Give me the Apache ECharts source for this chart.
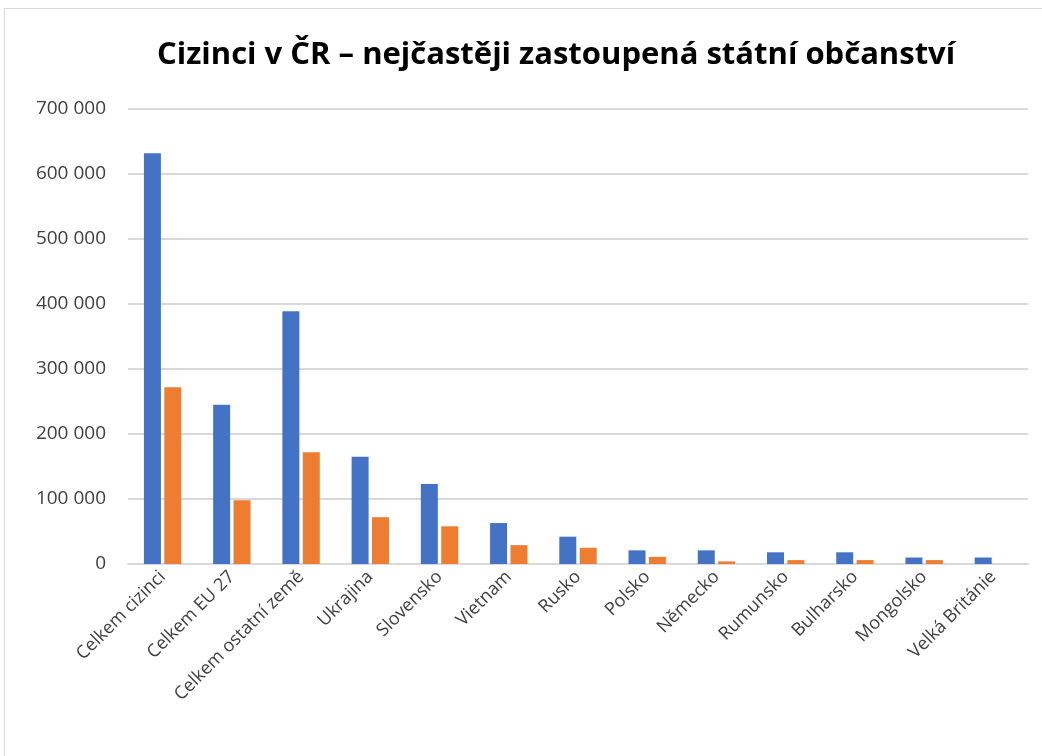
<!DOCTYPE html>
<html>
<head>
<meta charset="utf-8">
<script src="https://cdn.jsdelivr.net/npm/echarts@6/dist/echarts.min.js"></script>
<style>
  body { margin: 0; background: #fff; }
  #frame {
    position: absolute; left: 4px; top: 8px; width: 1040px; height: 760px;
    border: 1px solid #d9d9d9; box-sizing: border-box;
  }
  #main { position: absolute; left: 0; top: 0; width: 1042px; height: 756px; }
</style>
</head>
<body>
<div id="frame"></div>
<div id="main"></div>
<script>
// staty
var categories = ["Celkem cizinci", "Celkem EU 27", "Celkem ostatní země", "Ukrajina", "Slovensko",
  "Vietnam", "Rusko", "Polsko", "Německo", "Rumunsko", "Bulharsko", "Mongolsko", "Velká Británie"];
// modré sloupce
var blueValues = [632000, 245000, 389000, 165000, 123000, 63000, 42000, 21000, 21000, 18000, 18000, 10000, 10000];
// oranžové sloupce
var orangeValues = [272000, 98000, 172000, 72000, 58000, 29000, 25000, 11000, 4000, 6000, 6000, 6000, 0];

var font = "'Open Sans', sans-serif";

var chart = echarts.init(document.getElementById("main"));
chart.setOption({
  animation: false,
  title: {
    text: "Cizinci v ČR – nejčastěji zastoupená státní občanství",
    left: 152,
    top: 35,
    textStyle: { fontFamily: font, fontSize: 31, fontWeight: "bold", color: "#000" }
  },
  grid: { left: 128, right: 14, top: 109, bottom: 192 },
  xAxis: {
    type: "category",
    data: categories,
    axisLine: { lineStyle: { color: "#d9d9d9", width: 2 } },
    axisTick: { show: false },
    axisLabel: {
      interval: 0, rotate: 45, margin: 10,
      fontFamily: font, fontSize: 18, color: "#404040"
    }
  },
  yAxis: {
    type: "value",
    min: 0, max: 700000, interval: 100000,
    axisLine: { show: false },
    axisTick: { show: false },
    splitLine: { lineStyle: { color: "#d9d9d9", width: 2 } },
    axisLabel: {
      margin: 22, fontFamily: font, fontSize: 19, color: "#404040",
      formatter: function (v) { return String(v).replace(/\B(?=(\d{3})+(?!\d))/g, " "); }
    }
  },
  series: [
    {
      type: "bar", data: blueValues, barWidth: 17, barGap: "20%",
      itemStyle: { color: "#4472c4" }
    },
    {
      type: "bar", data: orangeValues, barWidth: 17,
      itemStyle: { color: "#ed7d31" }
    }
  ]
});
</script>
</body>
</html>
